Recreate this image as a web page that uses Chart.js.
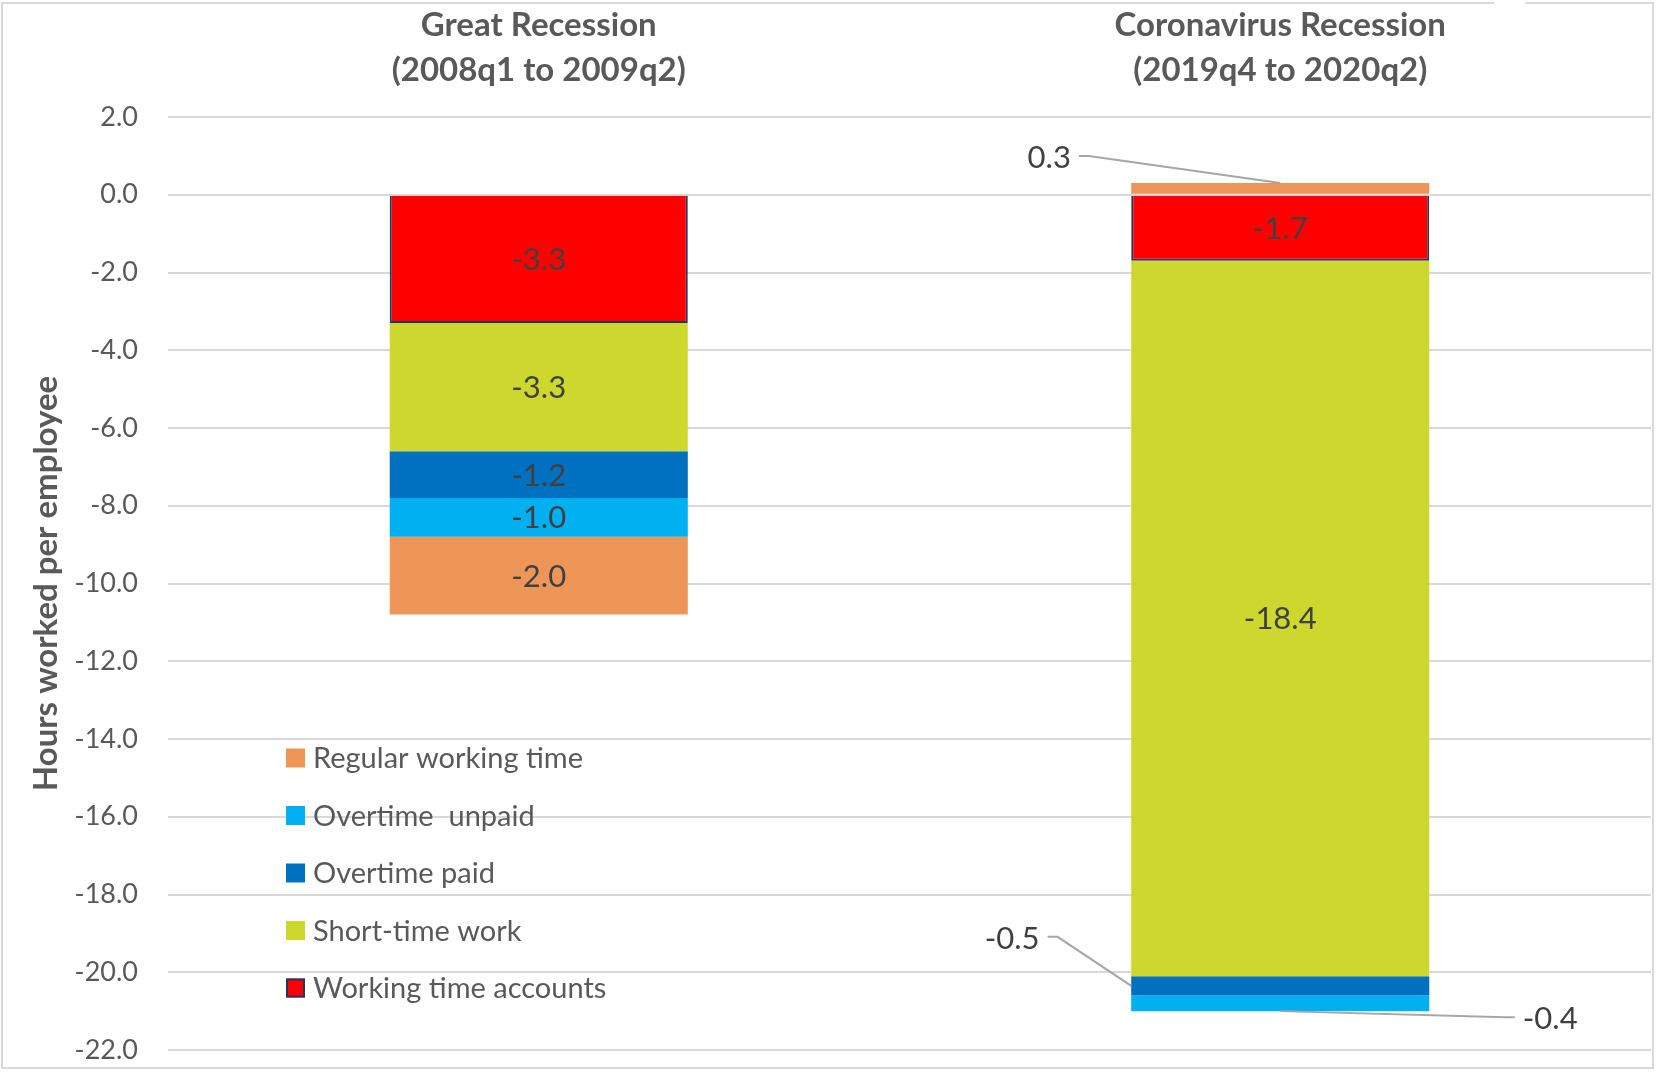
<!DOCTYPE html>
<html>
<head>
<meta charset="utf-8">
<script src="https://cdn.jsdelivr.net/npm/chart.js@4.4.1/dist/chart.umd.min.js"></script>
<style>
  html, body { margin: 0; padding: 0; background: #ffffff; }
  #wrap { position: relative; width: 1656px; height: 1072px; }
</style>
</head>
<body>
<div id="wrap"><canvas id="c"></canvas></div>
<script>
// ---- Data ----
const categories = [
  ["Great Recession", "(2008q1 to 2009q2)"],
  ["Coronavirus Recession", "(2019q4 to 2020q2)"]
];
const seriesNames = ["Working time accounts", "Short-time work", "Overtime paid", "Overtime  unpaid", "Regular working time"];
const workingTimeAccounts = [-3.3, -1.7];
const shortTimeWork = [-3.3, -18.4];
const overtimePaid = [-1.2, -0.5];
const overtimeUnpaid = [-1.0, -0.4];
const regularWorkingTime = [-2.0, 0.3];
const yMin = -22, yMax = 2, yStep = 2;

// ---- Styles ----
const FONT = "Lato, 'Open Sans', 'Noto Sans', sans-serif";
const colors = ["#FF0000", "#CED72E", "#0070C0", "#00B0F0", "#EE9658"];
const redBorder = "#1F3864";

// callouts for small segments: series index, category index, anchor, label offset from anchor
const callouts = [
  { s: 4, i: 1, anchor: "top", dx: -231, dy: -25, side: "left" },
  { s: 2, i: 1, anchor: "left", dx: -119, dy: -47, side: "left" },
  { s: 3, i: 1, anchor: "bottom", dx: 270, dy: 8, side: "right" }
];

const seriesData = [workingTimeAccounts, shortTimeWork, overtimePaid, overtimeUnpaid, regularWorkingTime];
const datasets = seriesData.map((d, k) => ({
  label: seriesNames[k],
  data: d,
  backgroundColor: colors[k],
  borderColor: k === 0 ? redBorder : colors[k],
  borderWidth: k === 0 ? 2 : 0,
  categoryPercentage: 1,
  barPercentage: 0.402
}));

const framePlugin = {
  id: "frame",
  beforeDraw(chart) {
    const ctx = chart.ctx;
    ctx.save();
    ctx.fillStyle = "#ffffff";
    ctx.fillRect(0, 0, chart.width, chart.height);
    ctx.strokeStyle = "#D9D9D9";
    ctx.lineWidth = 2;
    ctx.beginPath();
    ctx.moveTo(1494, 3); ctx.lineTo(2, 3); ctx.lineTo(2, 1068); ctx.lineTo(1653, 1068); ctx.lineTo(1653, 3); ctx.lineTo(1525, 3);
    ctx.stroke();
    ctx.restore();
  }
};

const labelPlugin = {
  id: "valueLabels",
  afterDatasetsDraw(chart) {
    const ctx = chart.ctx;
    ctx.save();
    ctx.font = "31px " + FONT;
    ctx.fillStyle = "#404040";
    ctx.textBaseline = "middle";
    chart.data.datasets.forEach((ds, s) => {
      const meta = chart.getDatasetMeta(s);
      meta.data.forEach((el, i) => {
        const txt = Number(ds.data[i]).toFixed(1);
        const co = callouts.find(c => c.s === s && c.i === i);
        const w = el.width;
        const top = Math.min(el.y, el.base), bot = Math.max(el.y, el.base);
        if (!co) {
          ctx.textAlign = "center";
          ctx.fillText(txt, el.x, (top + bot) / 2 + 1);
          return;
        }
        let ax, ay;
        if (co.anchor === "top") { ax = el.x; ay = top; }
        else if (co.anchor === "bottom") { ax = el.x; ay = bot; }
        else { ax = el.x - w / 2; ay = (top + bot) / 2; }
        const tx = ax + co.dx, ty = ay + co.dy;
        ctx.textAlign = "center";
        ctx.fillText(txt, tx, ty);
        const tw = ctx.measureText(txt).width;
        ctx.strokeStyle = "#A6A6A6";
        ctx.lineWidth = 2;
        ctx.beginPath();
        if (co.side === "left") {
          const sx = tx + tw / 2 + 8;
          ctx.moveTo(sx, ty - 2); ctx.lineTo(sx + 10, ty - 2); ctx.lineTo(ax, ay);
        } else {
          const sx = tx - tw / 2 - 8;
          ctx.moveTo(sx, ty - 2); ctx.lineTo(sx - 10, ty - 2); ctx.lineTo(ax, ay);
        }
        ctx.stroke();
      });
    });
    ctx.restore();
  }
};

const legendPlugin = {
  id: "innerLegend",
  afterDraw(chart) {
    const ctx = chart.ctx;
    ctx.save();
    ctx.font = "29px " + FONT;
    ctx.textAlign = "left";
    ctx.textBaseline = "middle";
    const order = chart.data.datasets.map((d, k) => k).reverse();
    const x0 = 286, y0 = 758, gap = 57.5, sw = 19;
    order.forEach((k, n) => {
      const ds = chart.data.datasets[k];
      const cy = y0 + n * gap;
      ctx.fillStyle = ds.backgroundColor;
      ctx.fillRect(x0, cy - sw / 2, sw, sw);
      if (ds.borderWidth > 0) {
        ctx.strokeStyle = ds.borderColor;
        ctx.lineWidth = 2;
        ctx.strokeRect(x0 + 1, cy - sw / 2 + 1, sw - 2, sw - 2);
      }
      ctx.fillStyle = "#595959";
      ctx.fillText(ds.label, x0 + 27, cy + 1);
    });
    ctx.restore();
  }
};

new Chart(document.getElementById("c"), {
  type: "bar",
  data: { labels: categories, datasets },
  plugins: [framePlugin, labelPlugin, legendPlugin],
  options: {
    responsive: true,
    maintainAspectRatio: false,
    animation: false,
    layout: { padding: { left: 0, top: 0, right: 5, bottom: 22 } },
    plugins: { legend: { display: false }, tooltip: { enabled: false } },
    scales: {
      x: {
        position: "top",
        stacked: true,
        grid: { display: false, drawTicks: false },
        border: { display: false },
        ticks: {
          color: "#595959",
          font: { family: FONT, size: 33, weight: "bold", lineHeight: 1.36 },
          padding: 24,
          maxRotation: 0,
          autoSkip: false
        },
        afterFit(scale) { scale.height = 117; }
      },
      y: {
        stacked: true,
        min: yMin,
        max: yMax,
        grid: { color: "#D9D9D9", lineWidth: 2, drawTicks: true, tickLength: 30, tickColor: "rgba(0,0,0,0)" },
        border: { display: false },
        ticks: {
          stepSize: yStep,
          color: "#595959",
          font: { family: FONT, size: 27, lineHeight: 1.2 },
          padding: 0,
          callback: v => Number(v).toFixed(1)
        },
        title: {
          display: true,
          text: "Hours worked per employee",
          color: "#595959",
          font: { family: FONT, size: 33, weight: "bold", lineHeight: 1.2 },
          padding: { top: 27, bottom: 0 }
        },
        afterFit(scale) { scale.width = 168; }
      }
    }
  }
});
</script>
</body>
</html>
